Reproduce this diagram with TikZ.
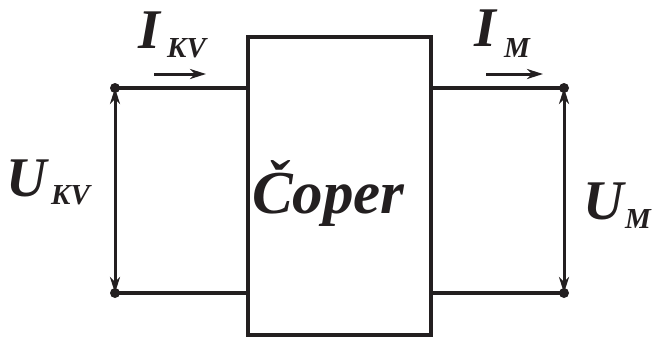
\documentclass[tikz,border=0pt]{standalone}
\usepackage{fontspec}
\setmainfont{Liberation Serif}
\usetikzlibrary{arrows.meta}
\definecolor{ink}{HTML}{231F20}
\tikzset{
  wire/.style={draw=ink, line width=4bp},
  box/.style={draw=ink, line width=4bp},
  term/.style={circle, fill=ink, inner sep=0pt, minimum size=10bp},
  volt/.style={draw=ink, line width=3bp, {Stealth[length=16bp,width=10bp,inset=5bp]}-{Stealth[length=16bp,width=10bp,inset=5bp]}},
  curr/.style={draw=ink, line width=3bp, -{Stealth[length=16bp,width=10bp,inset=5bp]}},
  lbl/.style={inner sep=0pt, anchor=base west, text=ink, font=\bfseries\itshape\fontsize{56bp}{56bp}\selectfont},
  sub/.style={inner sep=0pt, anchor=base west, text=ink, font=\bfseries\itshape\fontsize{29bp}{29bp}\selectfont}
}
\begin{document}
\begin{tikzpicture}[x=1bp,y=-1bp]
\useasboundingbox (0,0) rectangle (656,338);
% block
\coordinate (bTL) at (248,36.5);
\coordinate (bBR) at (431,335);
\draw[box] (bTL) rectangle (bBR);
\node[inner sep=0pt, anchor=base west, text=ink, font=\bfseries\itshape\fontsize{61bp}{61bp}\selectfont] (chop) at (252,213) {Čoper};
% terminals
\node[term] (l1) at (115,88) {};
\node[term] (l2) at (115,293) {};
\node[term] (r1) at (564,88) {};
\node[term] (r2) at (564,293) {};
\coordinate (bl1) at (248,88);
\coordinate (bl2) at (248,293);
\coordinate (br1) at (431,88);
\coordinate (br2) at (431,293);
\draw[wire] (l1.center) -- (bl1);
\draw[wire] (l2.center) -- (bl2);
\draw[wire] (br1) -- (r1.center);
\draw[wire] (br2) -- (r2.center);
% voltage arrows
\draw[volt] (l1.center) -- (l2.center);
\draw[volt] (r1.center) -- (r2.center);
% current arrows
\coordinate (ia1) at (154,74);
\coordinate (ia2) at (206,74);
\coordinate (ib1) at (486,74);
\coordinate (ib2) at (543,74);
\draw[curr] (ia1) -- (ia2);
\draw[curr] (ib1) -- (ib2);
% labels
\node[lbl] (ikv) at (138,48) {I};
\node[sub] (ikvs) at (167,57) {KV};
\node[lbl] (ukv) at (6,196) {U};
\node[sub] (ukvs) at (51,204) {KV};
\node[lbl] (im) at (474,46) {I};
\node[sub] (ims) at (504,57) {M};
\node[lbl] (um) at (583,219) {U};
\node[sub] (ums) at (625,228) {M};
\end{tikzpicture}
\end{document}
